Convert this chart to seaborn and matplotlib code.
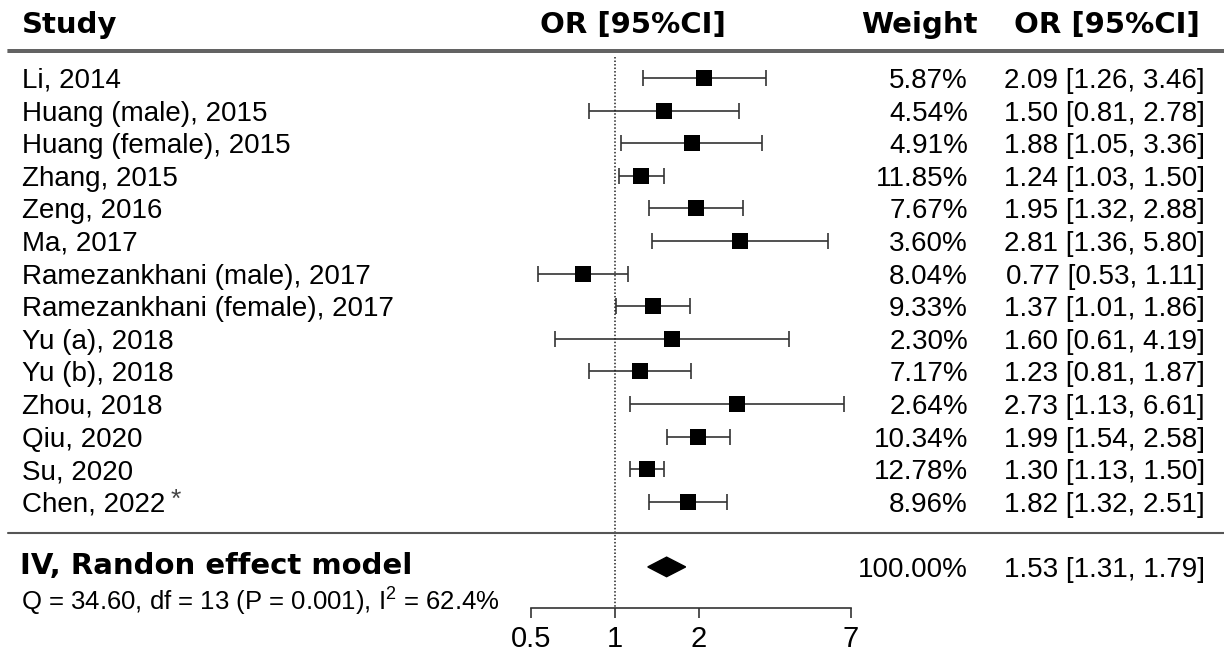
import numpy as np
import pandas as pd
import matplotlib
matplotlib.use("Agg")
import matplotlib.pyplot as plt
import matplotlib.transforms as mtransforms
import seaborn as sns

studies = ["Li, 2014", "Huang (male), 2015", "Huang (female), 2015", "Zhang, 2015",
           "Zeng, 2016", "Ma, 2017", "Ramezankhani (male), 2017",
           "Ramezankhani (female), 2017", "Yu (a), 2018", "Yu (b), 2018",
           "Zhou, 2018", "Qiu, 2020", "Su, 2020", "Chen, 2022"]
weights = [5.87, 4.54, 4.91, 11.85, 7.67, 3.60, 8.04, 9.33, 2.30, 7.17, 2.64, 10.34, 12.78, 8.96]
odds = [2.09, 1.50, 1.88, 1.24, 1.95, 2.81, 0.77, 1.37, 1.60, 1.23, 2.73, 1.99, 1.30, 1.82]
lower = [1.26, 0.81, 1.05, 1.03, 1.32, 1.36, 0.53, 1.01, 0.61, 0.81, 1.13, 1.54, 1.13, 1.32]
upper = [3.46, 2.78, 3.36, 1.50, 2.88, 5.80, 1.11, 1.86, 4.19, 1.87, 6.61, 2.58, 1.50, 2.51]
pooled = [1.53, 1.31, 1.79]
ticks = [0.5, 1, 2, 7]
stats_text = "Q = 34.60, df = 13 (P = 0.001), I$^{2}$ = 62.4%"

df = pd.DataFrame({"study": studies, "w": weights, "or": odds, "lo": lower, "hi": upper})
df["row"] = np.arange(len(df))

sns.set_style("white")
plt.rcParams["font.family"] = ["Liberation Sans", "DejaVu Sans"]
plt.rcParams["text.color"] = "black"
plt.rcParams["xtick.labelcolor"] = "black"
plt.rcParams["mathtext.fontset"] = "custom"
plt.rcParams["mathtext.rm"] = "Liberation Sans"
plt.rcParams["mathtext.it"] = "Liberation Sans"

W, H = 1224, 653
fig = plt.figure(figsize=(W / 100, H / 100), dpi=100)
# axes spans 0.5..7 horizontally, bottom spine is the x axis line
ax = fig.add_axes([531 / W, (H - 608) / H, 320 / W, 608 / H])
ax.set_xscale("log")
ax.set_xlim(0.5, 7)
ax.set_ylim(16.26, -2.39)

line_col = "#333333"
# confidence intervals
ax.errorbar(df["or"], df["row"], xerr=[df["or"] - df["lo"], df["hi"] - df["or"]],
            fmt="none", ecolor=line_col, elinewidth=1.2, capsize=5.5, capthick=1.2)
sns.scatterplot(data=df, x="or", y="row", marker="s", s=120, color="black",
                edgecolor="black", linewidth=0, ax=ax, legend=False, zorder=3)

# pooled diamond
srow = 15
h = 0.3
ax.fill([pooled[1], pooled[0], pooled[2], pooled[0]], [srow, srow - h, srow, srow + h],
        color="black", zorder=3)

# reference line at 1
ax.vlines(1, -0.65, 16.26, colors="#222222", linestyles=(0, (1, 1.3)), linewidth=1.1)

# separators
ax.axhline(-0.87, xmin=-1.634, xmax=2.2, color="#444444", lw=1.2, clip_on=False)
ax.axhline(-0.80, xmin=-1.634, xmax=2.2, color="#444444", lw=1.2, clip_on=False)
ax.axhline(13.97, xmin=-1.634, xmax=2.2, color="#555555", lw=1.5, clip_on=False)

# axis styling
for s in ["left", "right", "top"]:
    ax.spines[s].set_visible(False)
ax.spines["bottom"].set_color(line_col)
ax.spines["bottom"].set_linewidth(1.2)
ax.set_xticks(ticks)
ax.set_xticklabels([str(t) for t in ticks])
ax.minorticks_off()
ax.tick_params(axis="x", direction="out", length=7, width=1.2, color=line_col,
               labelsize=21, labelcolor="black", pad=5, bottom=True)
ax.set_yticks([])
ax.set_xlabel("")
ax.set_ylabel("")

tr = mtransforms.blended_transform_factory(fig.transFigure, ax.transData)
fs = 20
va = "center_baseline"
for _, r in df.iterrows():
    t = ax.text(22 / W, r["row"], r["study"], transform=tr, ha="left", va=va,
                fontsize=fs, clip_on=False)
    ax.text(968 / W, r["row"], f"{r['w']:.2f}%", transform=tr, ha="right",
            va=va, fontsize=fs)
    ax.text(1205 / W, r["row"], f"{r['or']:.2f} [{r['lo']:.2f}, {r['hi']:.2f}]",
            transform=tr, ha="right", va=va, fontsize=fs)
    if r["study"].startswith("Chen"):
        ax.annotate("*", xy=(1, 1), xycoords=t, xytext=(4, 3),
                    textcoords="offset points", ha="left", va="top",
                    fontsize=19, color="#444444")

# header
hfont = dict(fontsize=21, fontweight="bold", family="DejaVu Sans")
hy = -1.72
ax.text(22 / W, hy, "Study", transform=tr, ha="left", va=va, **hfont)
ax.text(633 / W, hy, "OR [95%CI]", transform=tr, ha="center", va=va, **hfont)
ax.text(978 / W, hy, "Weight", transform=tr, ha="right", va=va, **hfont)
ax.text(1200 / W, hy, "OR [95%CI]", transform=tr, ha="right", va=va, **hfont)

# summary row
ax.text(20 / W, srow - 0.12, "IV, Randon effect model", transform=tr, ha="left",
        va=va, fontsize=21, fontweight="bold", family="DejaVu Sans")
ax.text(968 / W, srow, "100.00%", transform=tr, ha="right", va=va, fontsize=fs)
ax.text(1205 / W, srow, f"{pooled[0]:.2f} [{pooled[1]:.2f}, {pooled[2]:.2f}]",
        transform=tr, ha="right", va=va, fontsize=fs)
ax.text(21 / W, 15.95, stats_text, transform=tr, ha="left", va=va, fontsize=18.5)

fig.savefig("out.png", dpi=100)
